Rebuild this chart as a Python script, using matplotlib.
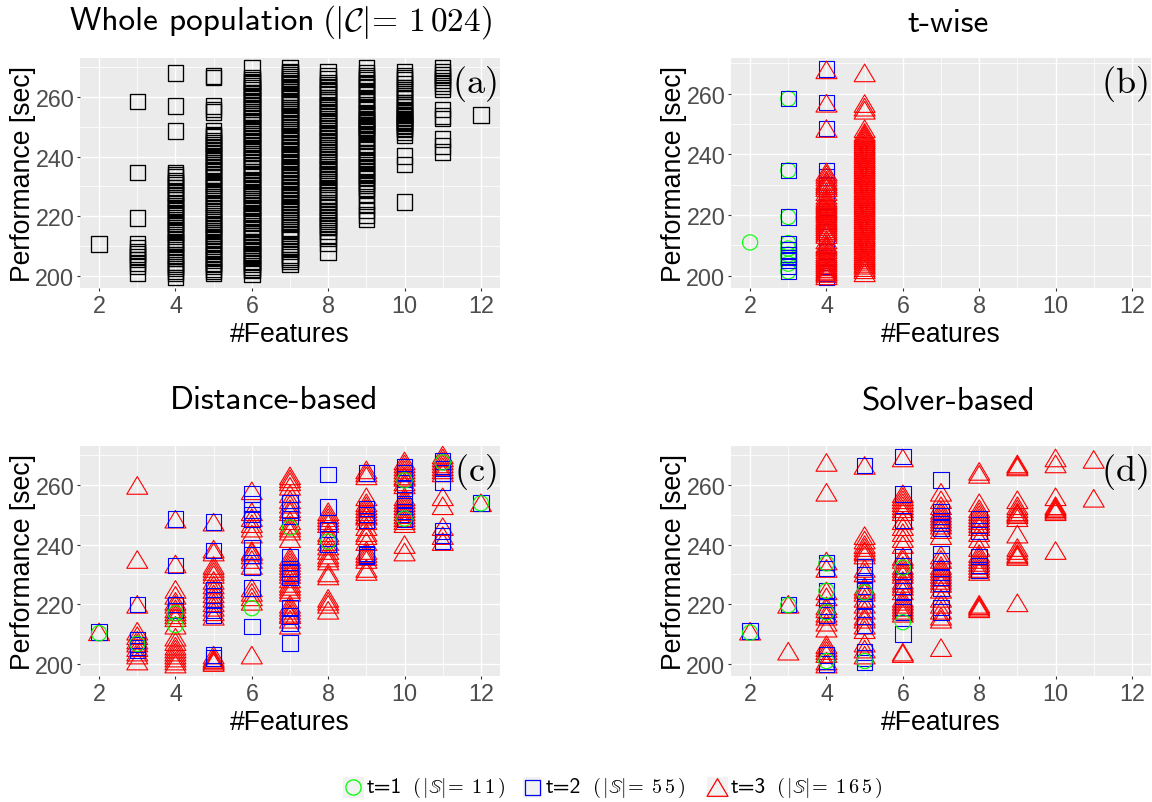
import matplotlib
matplotlib.use('Agg')
import matplotlib.pyplot as plt
from matplotlib.patches import Rectangle
from matplotlib.path import Path

plt.rcParams['mathtext.fontset'] = 'cm'
plt.rcParams['font.family'] = ['Liberation Sans', 'DejaVu Sans']
plt.rcParams['axes.unicode_minus'] = False

W, H = 1152, 803

# feature count -> performance values
pop_black = {
    2: [210.8],
    3: [258.5, 234.7, 219.4, 210.8, 209.4, 208.2, 207.3, 206.5, 205.6, 204.4, 203.3, 201],
    4: [268, 257, 248.6, 234.7, 233.2, 232, 230.6, 229.7, 228.2, 227.3, 226.1, 225.4, 224.2, 222.8, 221.9,
        220.5, 219.6, 218.2, 217.2, 216.1, 214.8, 213.9, 212.4, 211.5, 210.6, 209.7, 208.2, 207.1, 206,
        204.7, 203.9, 202.5, 201.6, 200.8, 199.5],
    5: [266.9, 266.5, 257, 255.8, 255, 248.6, 247.4, 246.5, 245.3, 244, 243.1, 241.8, 240.9, 239.5, 238.6, 237.2,
        236.3, 235.1, 233.8, 232.9, 231.7, 230.3, 229.4, 228, 227.2, 226, 224.7, 223.9, 222.4, 221.5, 220.3,
        219, 218.1, 216.8, 215.9, 214.5, 213.3, 212.4, 211.2, 209.9, 209, 207.6, 206.7, 205.4, 204.2,
        203.3, 202.2, 201],
    6: [269.7, 265.7, 264.8, 263.7, 262.5, 261.4, 260.3, 259.5, 258.1, 257, 256, 254.9, 253.7, 252.8, 251.5,
        250.6, 249.3, 248.2, 247, 246.1, 244.8, 243.5, 242.5, 241.6, 240.2, 239.1, 238.3, 236.9, 235.8, 234.9,
        233.5, 232.4, 231.2, 230.3, 229.1, 228, 226.9, 225.8, 224.7, 223.5, 222.6, 221.2, 220.1, 219.3, 217.9,
        216.8, 215.7, 214.6, 213.5, 212.4, 210.9, 209.8, 208.7, 207.3, 206.2, 205.1, 204, 202.9, 201.8, 200.6],
    7: [269.6, 268.5, 267.5, 266.2, 265.3, 264, 263, 261.7, 260.8, 259.6, 258.4, 257.5, 256.2, 255.1, 254.2, 252.9,
        251.9, 250.7, 249.6, 248.4, 247.5, 246.2, 245.2, 244, 242.9, 241.9, 240.7, 239.6, 238.4, 237.5, 236.2,
        235.2, 234, 232.9, 231.8, 230.6, 229.5, 228.4, 227.3, 226.2, 225.2, 223.9, 222.9, 221.7, 220.6, 219.4,
        218.4, 217.2, 216, 214.9, 213.8, 212.7, 210.5, 209.3, 208.2, 207, 205.6, 204.9, 203.8],
    8: [268.3, 267.2, 265.9, 264.8, 263.5, 262.2, 260.9, 259.8, 258.5, 257.3, 256.2, 255, 253.7, 252.5, 251.4,
        250.3, 249.2, 248, 246.9, 245.8, 244.6, 243.5, 242.3, 241.2, 240.1, 238.9, 237.8, 236.6, 235.5, 234.3, 233.2,
        232.1, 230.9, 229.6, 228.2, 226.8, 225.7, 224.6, 223.2, 222, 220.9, 219.7, 218.5, 217.3, 216.2, 215, 213.7,
        212.5, 211.1, 208],
    9: [269.6, 268.2, 267, 265.8, 264.6, 263.4, 262, 260.9, 259.6, 258.5, 257.2, 256, 254.8, 253.9, 252.6, 251.7,
        250.8, 249.9, 248.9, 247.6, 246.5, 245.2, 243.9, 242.6, 241.4, 240.2, 239, 237.8, 236.5, 235.4, 234.3, 233, 231.6,
        230.4, 228.9, 227.5, 225.2, 223.6, 221.9, 220.5, 219],
    10: [268.3, 267, 265.7, 264.5, 263.2, 261.8, 260.4, 259.3, 258, 256.8, 255.6, 254.6, 253.7, 252.8, 251.9, 251, 250.1,
         249, 248, 247, 240.2, 237.4, 224.8],
    11: [269.6, 268.4, 267.3, 266.5, 265.5, 264.6, 263.6, 262.5, 255.7, 253.6, 252.7, 245.9, 243.6, 241.5],
    12: [254],
}
# the same columns again, the marks that fall between the ones above
pop_black_more = {
    4: [233.9, 231.3, 227.8, 223.5, 221.2, 217.7, 215.4, 211, 206.5, 203.2],
    5: [247, 244.6, 242.4, 240.2, 238, 235.6, 233.3, 231, 228.7, 226.6, 224.2, 222, 219.6, 217.4, 215.2, 213.8, 210.5, 208.3,
        205.8, 203.8, 201.6],
    6: [266.4, 265.2, 263.1, 261, 258.8, 256.5, 254.3, 252.1, 249.8, 247.6, 245.4, 243, 241, 238.8, 236.3, 234.2, 231.8,
        229.6, 227.5, 225.2, 223, 220.7, 218.6, 216.3, 214, 211.6, 210.4, 208.1, 206.7, 204.5, 202.3],
    7: [268, 266.8, 264.6, 262.4, 260.2, 258, 255.7, 253.5, 251.3, 249, 246.8, 244.5, 242.3, 240.2, 238, 235.8, 233.5, 231.3,
        229, 226.8, 224.6, 222.4, 220, 217.8, 215.5, 213.2, 209.8, 206.4],
    8: [264.2, 261.6, 259, 256.8, 254.4, 252, 249.8, 247.5, 245.2, 243, 240.6, 238.4, 236, 233.8, 231.5, 229, 227.2, 224, 221.4,
        219, 216.8],
    9: [266.4, 264, 261.5, 259, 256.6, 254.4, 252.2, 251.2, 250.4, 249.4, 248.2, 246, 243.3, 241, 238.4, 236, 233.7, 231, 229.5],
    10: [266.3, 262.5, 259.7, 257.4, 255, 254.1, 253.2, 252.3, 251.4, 250.6, 249.5],
}

b_green = {2: [211], 3: [258.3, 234.7, 219.4, 210.8, 209, 207, 206, 204, 201.5]}
b_blue = {
    3: [258.3, 234.7, 219.4, 210.5, 208.5, 207, 206, 205, 203, 201.5],
    4: [268, 257, 248.5, 234.7, 232.5, 230, 227.5, 225, 222.5, 219.5, 216, 213, 211, 208, 205, 203, 201, 199.5],
}
b_red = {
    4: [267.8, 256.8, 248.5, 234.2, 232.5, 231.5, 230.3, 229, 226.5, 225, 223.8, 222.5, 221.5, 220.3, 219, 218, 216.8,
        215.5, 214.3, 211.8, 210.6, 209.4, 207.8, 206.6, 205.4, 204.2, 203, 201.8, 200.8, 200],
    5: [266.8, 256.7, 255.5, 254.5, 247.2, 246, 244.8, 243.5, 242.3, 241, 239.8, 238.5, 237.2, 236, 234.8, 233.5, 232.3,
        231, 229.8, 228.5, 227.2, 226, 224.8, 223.5, 222.3, 221, 219.8, 218.5, 217.2, 216, 214.8, 213.5, 212.3,
        211, 209.8, 208.5, 207.2, 206, 204.8, 203.5, 202, 201],
}
# marks in between in the two full columns
b_red_more = {
    4: [233.4, 231, 229.7, 227.7, 225.6, 224.4, 223.2, 222, 220.9, 219.6, 218.4, 217.4, 216.2, 214.9, 213.6, 210, 208.6,
        207.2, 206, 204.8, 203.6, 202.4, 201.3],
    5: [248.4, 246.6, 245.4, 244.2, 242.9, 241.6, 240.4, 239.1, 237.9, 236.6, 235.4, 234.1, 232.9, 231.6, 230.4, 229.1,
        227.9, 226.6, 225.4, 224.1, 222.9, 221.6, 220.4, 219.1, 217.9, 216.6, 215.4, 214.1, 212.9, 211.6, 210.4, 209.1,
        207.9, 206.6, 205.4, 204.1, 202.7],
}

c_blue = {
    2: [210.8],
    3: [220, 208, 206.5, 205.5, 204.5],
    4: [248.5, 233, 220, 218],
    5: [247.5, 238, 225, 223, 221.5, 220, 218, 216.5, 203, 202],
    6: [257, 253.5, 251.5, 250, 248.5, 239, 236.5, 232.5, 225.5, 212.5],
    7: [254, 251.5, 249.5, 236, 232, 230.5, 229, 219, 216, 213.5, 207],
    8: [263.5, 252.5, 245, 242, 240],
    9: [264, 252, 250, 248, 237, 236.5, 236],
    10: [266, 264, 262, 259, 255, 253, 251, 250, 248.5],
    11: [268, 265.5, 264, 261, 244.5, 243, 241],
    12: [254],
}
c_red = {
    2: [210.8],
    3: [259.8, 235, 220, 211, 209.5, 208, 207, 205.5, 204, 203, 201],
    4: [248.5, 233.5, 225, 223, 221, 220, 218.5, 217.5, 216.5, 215.5, 213, 209, 207.5, 206, 205, 204, 203, 202, 201, 200],
    5: [247.5, 238.5, 237.5, 233, 232, 231, 230, 228, 226.5, 225, 223.5, 222, 220.5, 219, 217.5, 216, 203, 202, 201.5, 201, 200.5],
    6: [258, 251, 249, 247, 245.5, 243.5, 238, 237.5, 236.5, 235, 233, 225.5, 224, 222.5, 221, 203],
    7: [263, 262, 261, 259.5, 257, 255, 253.5, 252, 251, 248, 246.5, 245.5, 244.5, 242, 236, 235, 234, 233, 232, 231, 230,
        228.5, 227, 226, 225, 224, 220, 219, 218, 217, 216.5, 215, 213],
    8: [251, 250, 249, 248, 247, 244, 243, 241, 239.5, 238, 236.5, 235.5, 234.5, 230.5, 229.5, 222, 221, 220, 218],
    9: [265, 264, 263, 256, 254, 253, 252, 251, 250, 249.5, 248, 246, 244, 243, 241, 238, 237, 236, 235, 232, 231],
    10: [268, 267, 266, 265, 264, 263, 262.5, 261, 260, 256, 255, 254, 253, 252, 251, 250, 249, 248, 247, 240, 237.5],
    11: [270, 269, 268, 267, 266, 265, 264, 256, 253, 246, 243, 241],
    12: [254],
}
c_green = {2: [210.3], 3: [206.8], 4: [217, 213], 6: [218.7], 7: [245.7], 8: [241], 10: [261.5, 248.7], 11: [267.5], 12: [253.8]}

d_blue = {
    2: [211],
    3: [220],
    4: [234, 232, 224.5, 219.5, 218, 216.5, 203, 201, 200],
    5: [266.5, 232.5, 230, 228, 226, 224.5, 221, 218.5, 216, 213, 204, 202, 200.5],
    6: [269.5, 257, 248, 236, 233, 231, 228, 226, 224.5, 219, 217.5, 210],
    7: [261.7, 251, 249.5, 248, 247, 245.5, 237, 234.5, 232, 229, 227, 225.5, 219, 217.5],
    8: [248.5, 246.5, 244.5, 236, 233, 231.5],
}
d_red = {
    2: [211],
    3: [220, 204.3],
    4: [267.5, 257.5, 234.5, 232, 224.5, 222.5, 219.5, 218.5, 217, 216, 214, 212, 206.5, 205.5, 204.5, 203.5, 201, 200],
    5: [266.5, 243, 241.5, 240, 239, 238, 237.5, 236.5, 232, 230.5, 226, 225, 224, 222, 220, 218, 216, 215, 213, 211.5, 207, 205, 203],
    6: [269, 257, 256, 255, 254, 253, 252, 251, 248, 246, 244, 242, 240, 236, 235, 233, 232, 231, 230, 228, 227, 226, 224.5,
        222, 221, 220, 219, 218, 217, 204, 203.5],
    7: [257.5, 255, 253, 251.5, 250.5, 249.5, 248.5, 247.5, 246.5, 245, 243, 236.5, 235, 233, 232, 231, 230, 229, 228, 227, 225,
        222, 220, 218, 216, 215, 205.5],
    8: [264.5, 263.5, 254, 252, 251, 250, 249, 248, 247, 246, 244, 242, 239, 237, 236, 235, 234, 233, 232, 231, 220, 219.5, 219, 218.5],
    9: [267, 266.5, 266, 255, 253, 252, 251, 250.5, 250, 249, 243.5, 239, 238, 237, 236.5, 236, 220.5],
    10: [269, 267, 256, 253, 252.5, 252, 251.5, 251, 238],
    11: [268.5, 255.5],
}
d_green = {2: [210.5], 3: [219.7], 4: [233.7, 224.5, 217.3, 201], 5: [224, 201], 6: [232.3, 214]}

x_ticks = [2, 4, 6, 8, 10, 12]
y_ticks = [200, 220, 240, 260]
titles = ['Whole population', 't-wise', 'Distance-based', 'Solver-based']
tags = ['(a)', '(b)', '(c)', '(d)']

RED = '#FF0000'
BLUE = '#0000FF'
GREEN = '#00FF00'

# ggplot's triangle is wider than it is tall
FLAT_TRI = Path([(-1, -0.84), (1, -0.84), (0, 0.84), (-1, -0.84)], closed=True)


def px_axes(fig, left, top, right, bottom):
    return fig.add_axes([left / W, 1 - bottom / H, (right - left) / W, (bottom - top) / H])


def scatter_series(ax, series, marker, size, color, lw=0.8):
    for k, vals in series.items():
        ax.scatter([k] * len(vals), vals, marker=marker, s=size, facecolors='none',
                   edgecolors=color, linewidths=lw, zorder=3)


def style(ax, ylim):
    ax.set_facecolor('#EBEBEB')
    for s in ax.spines.values():
        s.set_visible(False)
    ax.set_xlim(1.5, 12.5)
    ax.set_ylim(*ylim)
    ax.set_xticks(x_ticks)
    ax.set_yticks(y_ticks)
    ax.set_xticks([3, 5, 7, 9, 11], minor=True)
    ax.set_yticks([210, 230, 250, 270], minor=True)
    ax.grid(True, which='major', color='white', lw=1.0, zorder=1)
    ax.grid(True, which='minor', color='white', lw=0.55, zorder=1)
    ax.set_axisbelow(True)
    ax.tick_params(which='major', length=2.5, width=0.8, color='#333333', labelcolor='#4D4D4D',
                   labelsize=16.8, pad=1.5)
    ax.tick_params(which='minor', length=0)
    ax.set_xlabel('#Features', fontsize=19.2, color='black', labelpad=3)
    ax.set_ylabel('Performance [sec]', fontsize=19.2, color='black')
    ax.yaxis.set_label_coords(-0.105, 0.5)


fig = plt.figure(figsize=(W / 100, H / 100), dpi=100)

ax_a = px_axes(fig, 80, 59, 500, 289)
ax_b = px_axes(fig, 731, 59, 1151, 289)
ax_c = px_axes(fig, 80, 447, 500, 677)
ax_d = px_axes(fig, 731, 447, 1151, 677)

style(ax_a, (196, 273))
style(ax_b, (196, 271.7))
style(ax_c, (196, 273))
style(ax_d, (196, 273))

SQ, TRI, CIR = 125, 228, 120

scatter_series(ax_a, pop_black, 's', SQ, 'black', lw=0.95)
scatter_series(ax_a, pop_black_more, 's', SQ, 'black', lw=0.95)

scatter_series(ax_b, b_green, 'o', CIR, GREEN)
scatter_series(ax_b, b_blue, 's', SQ, BLUE)
scatter_series(ax_b, b_red, FLAT_TRI, TRI, RED)
scatter_series(ax_b, b_red_more, FLAT_TRI, TRI, RED)

scatter_series(ax_c, c_red, FLAT_TRI, TRI, RED)
scatter_series(ax_c, c_blue, 's', SQ, BLUE)
scatter_series(ax_c, c_green, 'o', CIR, GREEN)

scatter_series(ax_d, d_red, FLAT_TRI, TRI, RED)
scatter_series(ax_d, d_blue, 's', SQ, BLUE)
scatter_series(ax_d, d_green, 'o', CIR, GREEN)

# titles and panel tags, placed in pixels
fig.text(70 / W, 1 - 22 / H, titles[0], fontsize=24, family='cmss10', va='center')
fig.text(322 / W, 1 - 22 / H, r'$(|\mathcal{C}|\!=\,1\,024)$', fontsize=24, va='center')
fig.text(948 / W, 1 - 24 / H, titles[1], fontsize=24, family='cmss10', va='center', ha='center')
fig.text(274 / W, 1 - 401 / H, titles[2], fontsize=24, family='cmss10', va='center', ha='center')
fig.text(948 / W, 1 - 402 / H, titles[3], fontsize=24, family='cmss10', va='center', ha='center')

for ax, tag in zip([ax_a, ax_b, ax_c, ax_d], tags):
    ax.text(0.992, 0.89, '$\\mathrm{' + tag + '}$', transform=ax.transAxes, fontsize=26, ha='right', va='center', zorder=5)

# legend row, an overlay in pixel coordinates
over = fig.add_axes([0, 0, 1, 1], facecolor='none')
over.set_xlim(0, W)
over.set_ylim(H, 0)
over.axis('off')
for left, right, color, marker, size, label, lab_x, note, note_x in [
    (343, 364, GREEN, 'o', 120, 't=1', 367, r'$(\,|\mathbb{S}|\!=\;1\,1\,)$', 412),
    (523, 542, BLUE, 's', 120, 't=2', 546, r'$(\,|\mathbb{S}|\!=\;5\,5\,)$', 592),
    (707, 728, RED, FLAT_TRI, 228, 't=3', 731, r'$(\,|\mathbb{S}|\!=\;1\,6\,5\,)$', 776),
]:
    over.add_patch(Rectangle((left, 778), right - left, 21, facecolor='#F2F2F2', edgecolor='none'))
    over.scatter([(left + right) / 2], [788.5], marker=marker, s=size, facecolors='none', edgecolors=color, linewidths=0.9)
    over.text(lab_x, 788, label, fontsize=15.5, family='cmss10', va='center')
    over.text(note_x, 788, note, fontsize=14.5, va='center')

fig.savefig('out.png', dpi=100)
